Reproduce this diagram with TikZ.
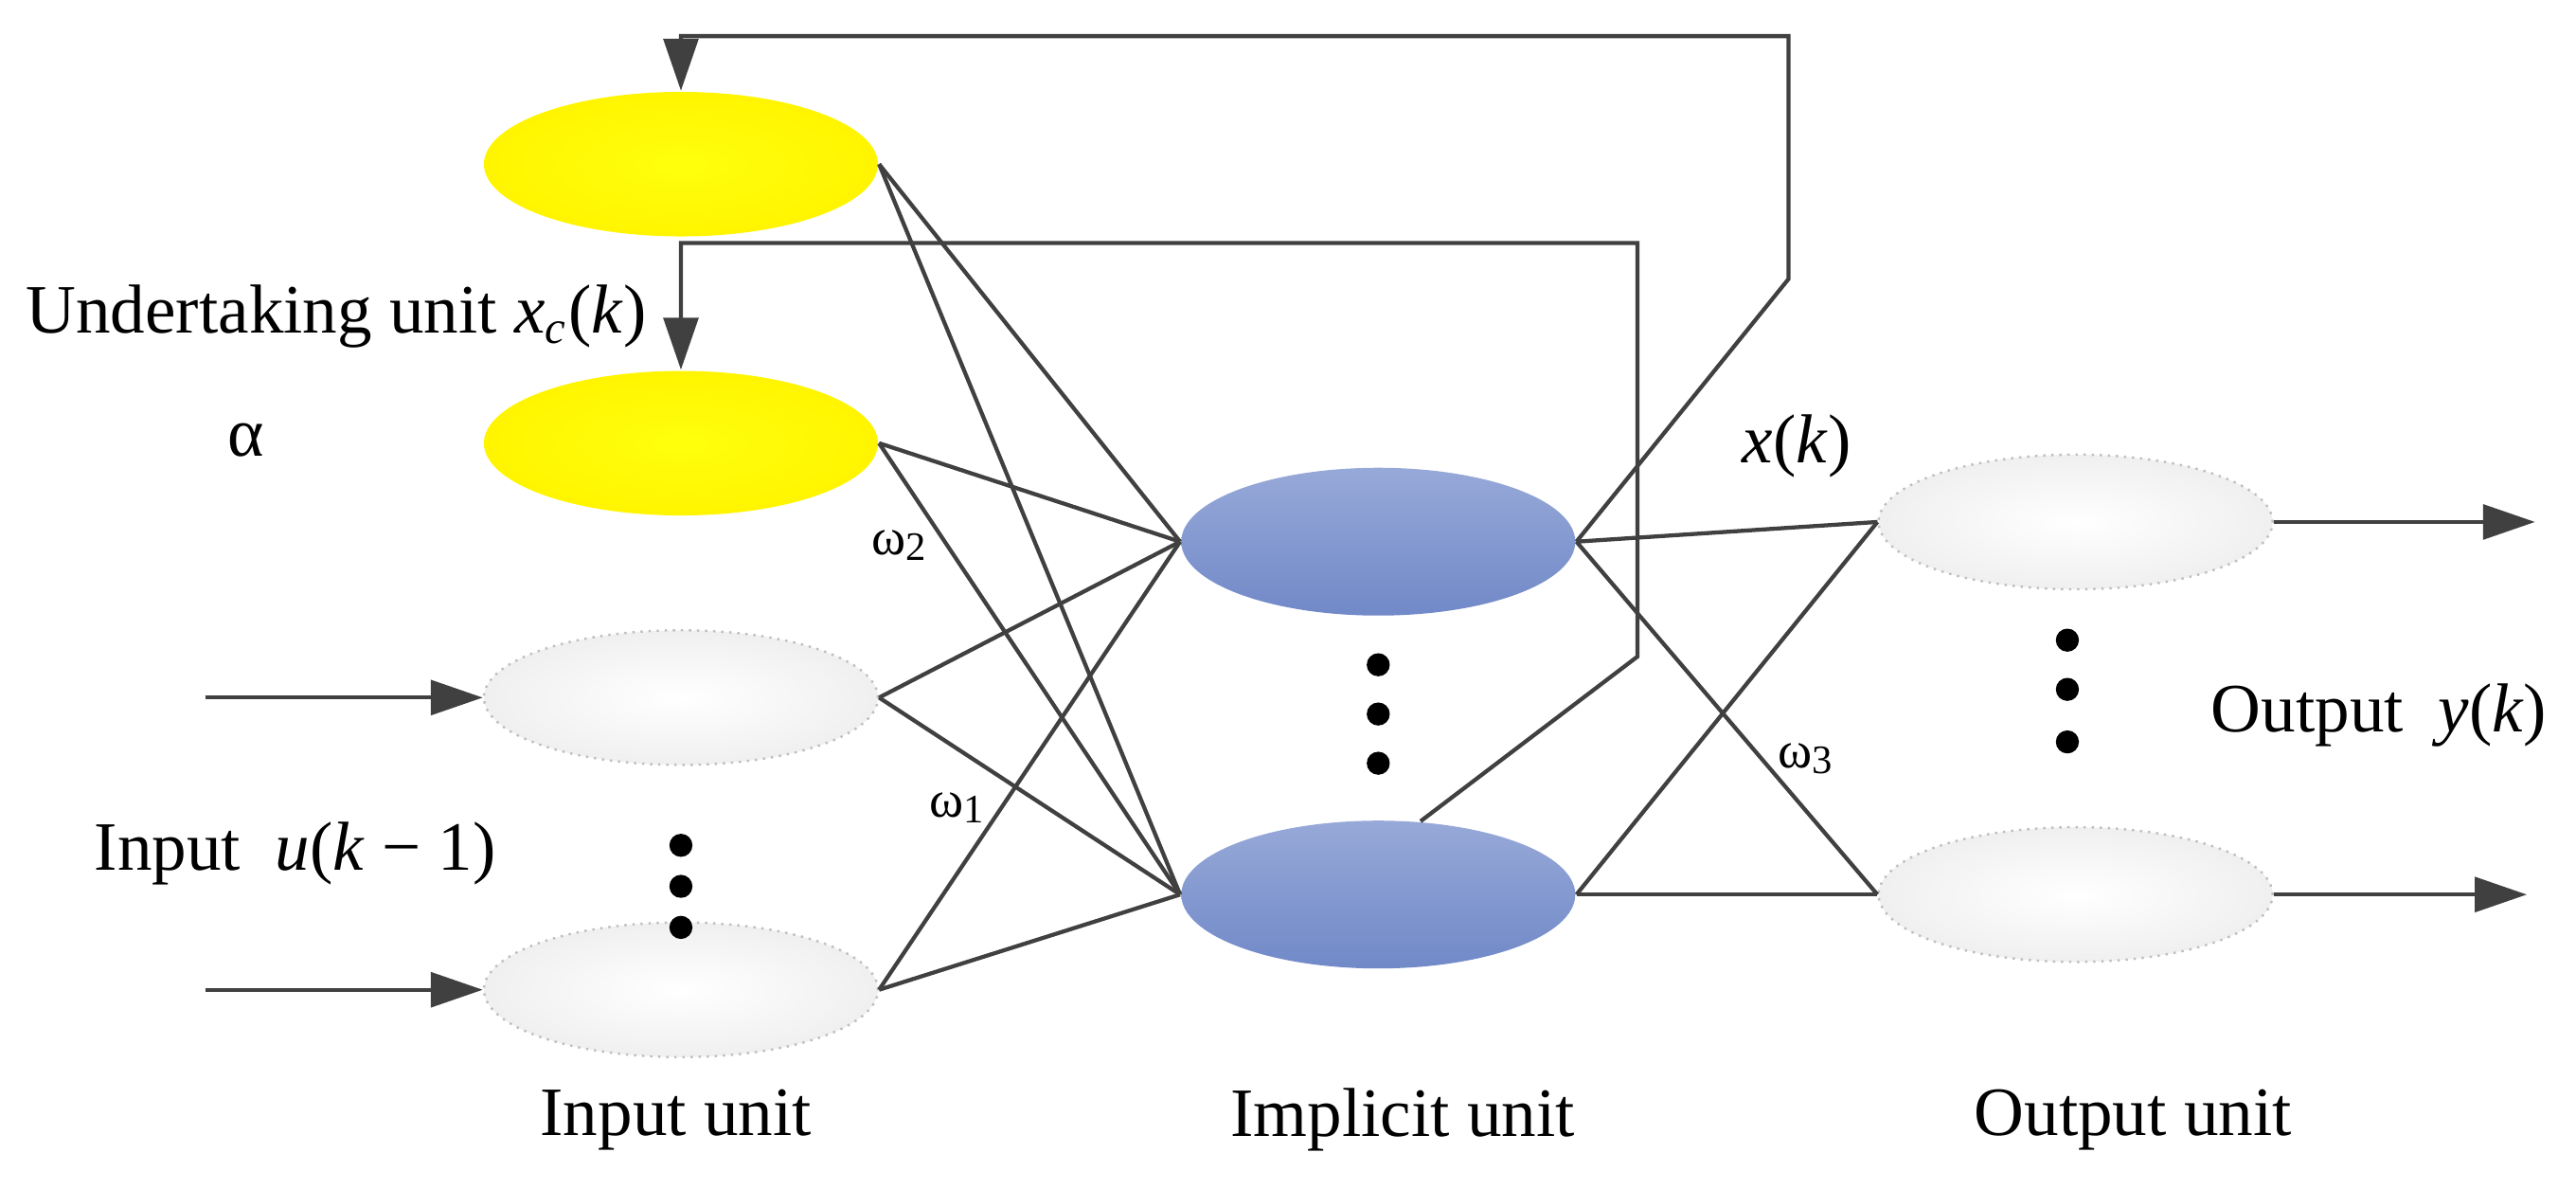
\documentclass[tikz,border=0pt]{standalone}
\usepackage{fontspec}
\setmainfont{Liberation Serif}
\usetikzlibrary{arrows.meta,calc,shapes.geometric}
\definecolor{bt}{HTML}{97A9D8}
\definecolor{bb}{HTML}{7189C8}
\begin{document}
\begin{tikzpicture}[x=0.01cm,y=-0.01cm,
  ln/.style={draw=black!75,line width=0.7pt},
  arr/.style={ln,-{Triangle[length=9pt,width=6pt]}},
  yel/.style={ellipse,minimum width=2.4cm,minimum height=0.88cm,inner sep=0,inner color=yellow!95!white,outer color=yellow!92!orange},
  blu/.style={ellipse,minimum width=2.4cm,minimum height=0.9cm,inner sep=0,top color=bt,bottom color=bb},
  gry/.style={ellipse,minimum width=2.4cm,minimum height=0.82cm,inner sep=0,draw=gray!50,densely dotted,inner color=white,outer color=gray!12},
  dot/.style={circle,fill=black,inner sep=0,minimum size=4pt},
  lab/.style={font=\fontsize{12}{14}\selectfont}]
\useasboundingbox (0,0) rectangle (1570,724);
\node[yel] (y1) at (415,100) {};
\node[yel] (y2) at (415,270) {};
\node[gry] (g1) at (415,425) {};
\node[gry] (g2) at (415,603) {};
\node[blu] (b1) at (840,330) {};
\node[blu] (b2) at (840,545) {};
\node[gry] (o1) at (1265,318) {};
\node[gry] (o2) at (1265,545) {};
\foreach \s in {y1,y2,g1,g2}{
  \draw[ln] (\s.east) -- (b1.west);
  \draw[ln] (\s.east) -- (b2.west);}
\foreach \s in {b1,b2}{
  \draw[ln] (\s.east) -- (o1.west);
  \draw[ln] (\s.east) -- (o2.west);}
\coordinate (f1) at (1090,170);
\coordinate (f2) at (1090,22);
\coordinate (f3) at (415,22);
\draw[arr] (b1.east) -- (f1) -- (f2) -- (f3) -- (y1.north);
\coordinate (h1) at (998,400);
\coordinate (h2) at (998,148);
\coordinate (h3) at (415,148);
\draw[arr] (b2.60) -- (h1) -- (h2) -- (h3) -- (y2.north);
\coordinate (i1) at (125,425);
\coordinate (i2) at (125,603);
\draw[arr] (i1) -- (g1.west);
\draw[arr] (i2) -- (g2.west);
\coordinate (e1) at (1545,318);
\coordinate (e2) at (1540,545);
\draw[arr] (o1.east) -- (e1);
\draw[arr] (o2.east) -- (e2);
\foreach \y [count=\i] in {515,540,565}{\node[dot] (da\i) at (415,\y) {};}
\foreach \y [count=\i] in {405,435,465}{\node[dot] (db\i) at (840,\y) {};}
\foreach \y [count=\i] in {390,420,452}{\node[dot] (dc\i) at (1260,\y) {};}
\node[lab] (tu) at (205,193) {Undertaking unit \textit{x}\textsubscript{\textit{c}}(\textit{k})};
\node[lab] (ta) at (150,268) {α};
\node[font=\fontsize{9}{10}\selectfont] (w2) at (548,332) {ω\raisebox{-1pt}{\scriptsize 2}};
\node[font=\fontsize{9}{10}\selectfont] (w1) at (583,492) {ω\raisebox{-1pt}{\scriptsize 1}};
\node[font=\fontsize{9}{10}\selectfont] (w3) at (1100,462) {ω\raisebox{-1pt}{\scriptsize 3}};
\node[lab] (tx) at (1095,272) {\textit{x}(\textit{k})};
\node[lab] (ty) at (1450,436) {Output\ \ \textit{y}(\textit{k})};
\node[lab] (tin) at (180,520) {Input\ \ \textit{u}(\textit{k} − 1)};
\node[lab] (l1) at (412,682) {Input unit};
\node[lab] (l2) at (855,682) {Implicit unit};
\node[lab] (l3) at (1300,682) {Output unit};
\end{tikzpicture}
\end{document}
